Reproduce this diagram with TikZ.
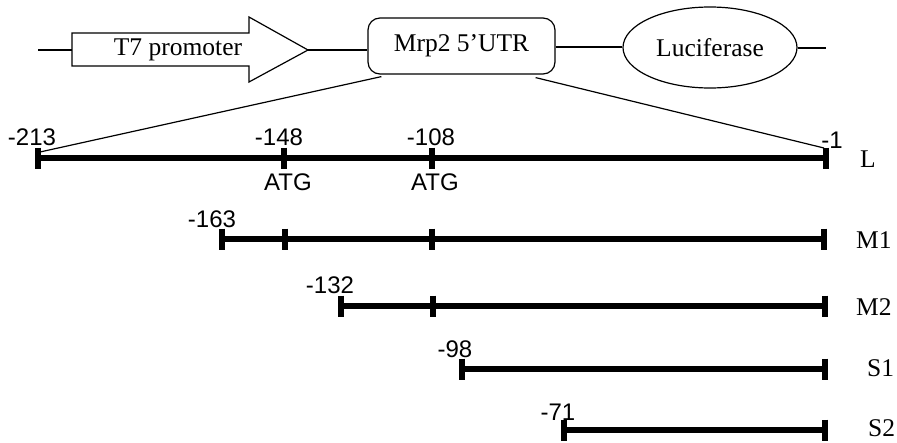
\documentclass[tikz,border=0pt]{standalone}
\usepackage{fontspec}
\setmainfont{Liberation Serif}
\setsansfont{Liberation Sans}
\usetikzlibrary{shapes.geometric,calc}
\tikzset{
  thinline/.style={line width=1.2pt},
  serifl/.style={font=\fontsize{25.5}{30}\selectfont, inner sep=0pt},
  sansl/.style={font=\sffamily\fontsize{24}{28}\selectfont, inner sep=0pt, anchor=base},
  rowl/.style={font=\fontsize{25.5}{30}\selectfont, inner sep=0pt, anchor=base west},
  bar/.style={line width=6.5pt, line cap=butt},
  tick/.style={line width=5.5pt, line cap=butt},
}
\begin{document}
\begin{tikzpicture}[x=1pt,y=-1pt]
\useasboundingbox (0,0) rectangle (897,442);
% --- construct ---
\coordinate (lstart) at (38,50);
\coordinate (t7tail) at (72,50);
\coordinate (t7tip) at (308,50);
\draw[thinline, line join=miter] (72,33) -- (249,33) -- (249,17) -- (308,50) -- (249,82) -- (249,66) -- (72,66) -- cycle;
\node[serifl] (t7) at (178,50) {T7 promoter};
\node[serifl, draw, thinline, rounded corners=12pt, minimum width=187pt, minimum height=56pt] (utr) at (461.5,46) {Mrp2 5’UTR};
\node[serifl, draw, thinline, ellipse, minimum width=174pt, minimum height=81pt] (luc) at (710,47.5) {Luciferase};
\coordinate (rend) at (826,48);
\draw[thinline] (lstart) -- (t7tail);
\draw[thinline] (t7tip) -- (t7tip -| utr.west);
\draw[thinline] (utr.east |- 0,47) -- (luc.west |- 0,47);
\draw[thinline] (luc.east |- rend) -- (rend);
% --- L bar ---
\coordinate (La) at (38,158);
\coordinate (Lb) at (826,158);
\coordinate (L1) at (284,158);
\coordinate (L2) at (432,158);
\coordinate (utrbl) at ($(utr.south west)+(14,2)$);
\coordinate (utrbr) at ($(utr.south east)+(-20,3)$);
\draw[thinline] (utrbl) -- ($(La)+(2,-6)$);
\draw[thinline] (utrbr) -- ($(Lb)+(-2,-10)$);
\draw[bar] (La) -- (Lb);
\foreach \p in {La,Lb,L1,L2} \draw[tick] ($(\p)+(0,-10.5)$) -- ($(\p)+(0,10.5)$);
\node[sansl] (n213) at (32,145) {-213};
\node[sansl] (n148) at (279,145) {-148};
\node[sansl] (n108) at (431,145) {-108};
\node[sansl] (n1) at (832,148) {-1};
\node[sansl] (atg1) at (288,190) {ATG};
\node[sansl] (atg2) at (435,190) {ATG};
\node[rowl] (lL) at (860,167) {L};
% --- M1 ---
\coordinate (M1a) at (222,239);
\coordinate (M1b) at (824,239);
\coordinate (M11) at (285,239);
\coordinate (M12) at (432,239);
\draw[bar] (M1a) -- (M1b);
\foreach \p in {M1a,M1b,M11,M12} \draw[tick] ($(\p)+(0,-10.5)$) -- ($(\p)+(0,10.5)$);
\node[sansl] (n163) at (212,227) {-163};
\node[rowl] (lM1) at (856,248) {M1};
% --- M2 ---
\coordinate (M2a) at (341,306);
\coordinate (M2b) at (825,306);
\coordinate (M21) at (433,306);
\draw[bar] (M2a) -- (M2b);
\foreach \p in {M2a,M2b,M21} \draw[tick] ($(\p)+(0,-10.5)$) -- ($(\p)+(0,10.5)$);
\node[sansl] (n132) at (330,293) {-132};
\node[rowl] (lM2) at (856,315) {M2};
% --- S1 ---
\coordinate (S1a) at (462,369);
\coordinate (S1b) at (825,369);
\draw[bar] (S1a) -- (S1b);
\foreach \p in {S1a,S1b} \draw[tick] ($(\p)+(0,-10.5)$) -- ($(\p)+(0,10.5)$);
\node[sansl] (n98) at (455,357) {-98};
\node[rowl] (lS1) at (867,376) {S1};
% --- S2 ---
\coordinate (S2a) at (564,430);
\coordinate (S2b) at (825,430);
\draw[bar] (S2a) -- (S2b);
\foreach \p in {S2a,S2b} \draw[tick] ($(\p)+(0,-10.5)$) -- ($(\p)+(0,10.5)$);
\node[sansl] (n71) at (558,420) {-71};
\node[rowl] (lS2) at (868,436) {S2};
\end{tikzpicture}
\end{document}
